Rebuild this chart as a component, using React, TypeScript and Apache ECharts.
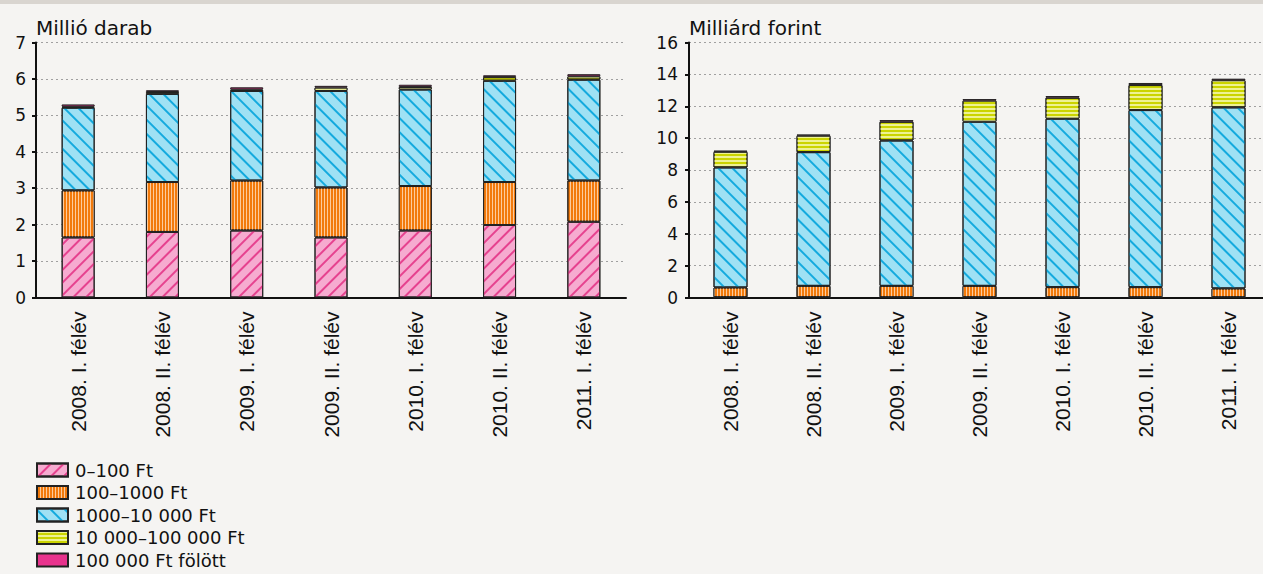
import React, { useEffect, useRef } from "react";
import * as echarts from "echarts";

const categories = [
  "2008. I. félév",
  "2008. II. félév",
  "2009. I. félév",
  "2009. II. félév",
  "2010. I. félév",
  "2010. II. félév",
  "2011. I. félév",
];

const seriesNames = [
  "0–100 Ft",
  "100–1000 Ft",
  "1000–10 000 Ft",
  "10 000–100 000 Ft",
  "100 000 Ft fölött",
];

// Left panel: million pieces
const countBand1 = [1.65, 1.8, 1.84, 1.65, 1.84, 1.99, 2.08];
const countBand2 = [1.29, 1.37, 1.37, 1.37, 1.22, 1.18, 1.13];
const countBand3 = [2.27, 2.42, 2.46, 2.65, 2.65, 2.78, 2.77];
const countBand4 = [0.03, 0.05, 0.04, 0.09, 0.07, 0.1, 0.09];
const countBand5 = [0.06, 0.05, 0.06, 0.05, 0.06, 0.05, 0.06];

// Right panel: billion forints
const valueBand1 = [0.02, 0.02, 0.02, 0.02, 0.02, 0.02, 0.02];
const valueBand2 = [0.61, 0.71, 0.71, 0.71, 0.63, 0.63, 0.55];
const valueBand3 = [7.53, 8.39, 9.12, 10.3, 10.57, 11.11, 11.36];
const valueBand4 = [0.98, 1.03, 1.18, 1.32, 1.32, 1.57, 1.7];
const valueBand5 = [0.08, 0.08, 0.1, 0.1, 0.1, 0.13, 0.1];

const leftTitle = "Millió darab";
const rightTitle = "Milliárd forint";

const countData = [countBand1, countBand2, countBand3, countBand4, countBand5];
const valueData = [valueBand1, valueBand2, valueBand3, valueBand4, valueBand5];

const TICK_FONT = "DejaVu Sans, Verdana, sans-serif";
const CAT_FONT = "Liberation Sans, Arial, sans-serif";

const bandStyles: any[] = [
  {
    color: "#f6abd0",
    decal: {
      symbol: "rect",
      symbolSize: 1,
      color: "#e6428f",
      dashArrayX: [1, 0],
      dashArrayY: [2, 7],
      rotation: -Math.PI / 4,
    },
  },
  {
    color: "#f27a0c",
    decal: {
      symbol: "rect",
      symbolSize: 1,
      color: "#fdcb9c",
      dashArrayX: [1, 2],
      dashArrayY: [1, 0],
      rotation: 0,
    },
  },
  {
    color: "#9fe1f4",
    decal: {
      symbol: "rect",
      symbolSize: 1,
      color: "#14aade",
      dashArrayX: [1, 0],
      dashArrayY: [2, 8],
      rotation: Math.PI / 4,
    },
  },
  {
    color: "#cbd400",
    decal: {
      symbol: "rect",
      symbolSize: 1,
      color: "#eef293",
      dashArrayX: [1, 0],
      dashArrayY: [2, 2],
      rotation: 0,
    },
  },
  { color: "#e8338d" },
];

function makeSeries(data: number[][], gridIdx: number, stack: string, barWidth: number) {
  return data.map((vals, i) => ({
    type: "bar",
    name: seriesNames[i],
    xAxisIndex: gridIdx,
    yAxisIndex: gridIdx,
    stack,
    barWidth,
    data: vals,
    itemStyle: {
      ...bandStyles[i],
      borderColor: "#222",
      borderWidth: 1,
    },
  }));
}

function xAxis(gridIndex: number) {
  return {
    type: "category",
    gridIndex,
    data: categories,
    axisLine: { lineStyle: { color: "#111", width: 2 } },
    axisTick: { length: 5, lineStyle: { color: "#111", width: 2 } },
    axisLabel: {
      rotate: 90,
      interval: 0,
      margin: 14,
      fontFamily: CAT_FONT,
      fontSize: 21,
      color: "#111",
    },
  };
}

function yAxis(gridIndex: number, max: number, interval: number, name: string, margin: number) {
  return {
    type: "value",
    gridIndex,
    min: 0,
    max,
    interval,
    name,
    nameLocation: "end",
    nameGap: 5,
    nameTextStyle: {
      align: "left",
      verticalAlign: "bottom",
      fontFamily: TICK_FONT,
      fontSize: 20,
      color: "#111",
    },
    axisLine: { show: true, lineStyle: { color: "#111", width: 2 } },
    axisTick: { show: true, length: 4, lineStyle: { color: "#111", width: 2 } },
    axisLabel: { margin, fontFamily: TICK_FONT, fontSize: 17, color: "#111" },
    splitLine: { show: true, lineStyle: { color: "#a0a0a0", width: 1, type: [2, 3] } },
  };
}

export default function App() {
  const ref = useRef<HTMLDivElement>(null);
  useEffect(() => {
    if (!ref.current) return;
    const chart = echarts.init(ref.current, null, { renderer: "svg" });
    const option: any = {
      animation: false,
      backgroundColor: "transparent",
      grid: [
        { left: 36, top: 42.5, width: 590, height: 255 },
        { left: 689, top: 42.5, width: 581, height: 255 },
      ],
      xAxis: [xAxis(0), xAxis(1)],
      yAxis: [yAxis(0, 7, 1, leftTitle, 10), yAxis(1, 16, 2, rightTitle, 11)],
      legend: {
        orient: "vertical",
        left: 36,
        top: 461,
        height: 200,
        padding: 0,
        itemWidth: 31,
        itemHeight: 13,
        itemGap: 4.5,
        icon: "rect",
        data: seriesNames,
        textStyle: {
          fontFamily: TICK_FONT,
          fontSize: 18,
          lineHeight: 18,
          color: "#111",
          padding: [0, 0, 0, 2],
        },
      },
      series: [
        ...makeSeries(countData, 0, "count", 33),
        ...makeSeries(valueData, 1, "value", 34),
      ],
    };
    chart.setOption(option);
    return () => chart.dispose();
  }, []);
  return (
    <div
      style={{
        position: "fixed",
        left: 0,
        top: 0,
        width: 1263,
        height: 574,
        overflow: "hidden",
        background: "#f5f4f2",
      }}
    >
      <div style={{ position: "absolute", left: 0, top: 0, width: 1263, height: 4, background: "#d9d5d0" }} />
      <div ref={ref} style={{ position: "absolute", left: 0, top: 0, width: 1290, height: 574 }} />
    </div>
  );
}
